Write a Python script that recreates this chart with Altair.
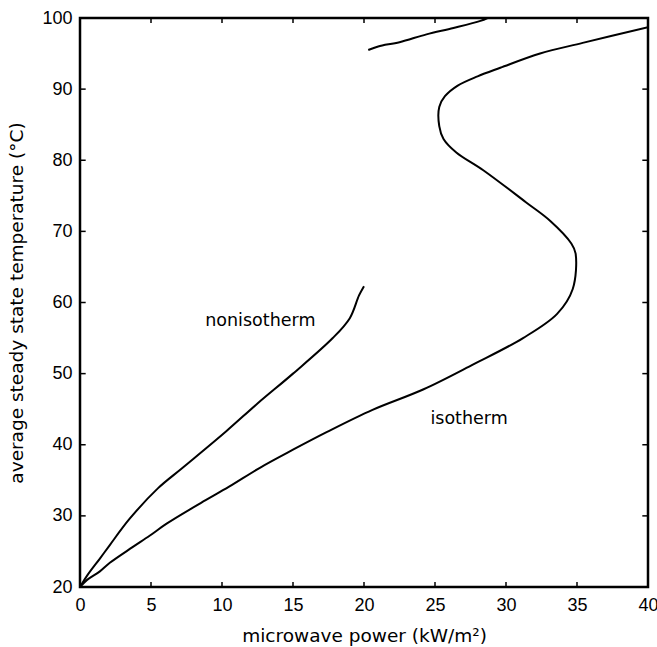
import altair as alt
import pandas as pd

# Isotherm curve (S-shaped, traced in order of the parameter)
iso_power = [0, 0.5, 1.4, 2.1, 3.7, 4.9, 6.1, 8.5, 10.5, 12.7, 15.0, 17.4, 20.6, 24.2,
             27.7, 31.2, 33.6, 34.7, 34.9, 34.6, 33.1, 31.4, 28.4, 26.5, 25.6, 25.3,
             25.3, 25.7, 26.6, 28.0, 29.6, 32.4, 35.4, 40.0]
iso_temp = [20, 21.0, 22.2, 23.4, 25.6, 27.2, 28.9, 31.8, 34.1, 36.8, 39.3, 41.8, 44.9, 47.8,
            51.3, 55.0, 58.4, 61.9, 66.9, 68.3, 71.5, 74.1, 78.6, 81.1, 83.0, 84.8,
            87.5, 89.0, 90.5, 91.8, 93.0, 95.0, 96.5, 98.7]

# Upper isotherm branch
iso2_power = [20.3, 21.0, 22.5, 24.4, 26.3, 28.2, 28.7]
iso2_temp = [95.5, 96.0, 96.6, 97.7, 98.6, 99.6, 100.0]

# Nonisotherm curve
non_power = [0, 0.5, 1.4, 2.1, 3.5, 5.5, 7.25, 10.3, 12.5, 15.0, 17.8, 19.0, 19.65, 20.0]
non_temp = [20, 21.6, 24.0, 25.9, 29.6, 33.9, 36.8, 41.9, 45.8, 50.0, 55.0, 57.8, 61.0, 62.3]

label_text = ["nonisotherm", "isotherm"]
label_power = [12.7, 27.4]
label_temp = [57.4, 43.6]

x_ticks = [0, 5, 10, 15, 20, 25, 30, 35, 40]
y_ticks = [20, 30, 40, 50, 60, 70, 80, 90, 100]

x_title = "microwave power (kW/m²)"
y_title = "average steady state temperature (°C)"

rows = []
for name, xs, ys in [("iso", iso_power, iso_temp), ("iso2", iso2_power, iso2_temp),
                     ("non", non_power, non_temp)]:
    for i, (xv, yv) in enumerate(zip(xs, ys)):
        rows.append({"curve": name, "i": i, "power": xv, "temp": yv})
curves = pd.DataFrame(rows)

FONT = "Liberation Sans"
WIDE = "DejaVu Sans"
W, H = 568, 569
xscale = alt.Scale(domain=[0, 40], nice=False, zero=False)
yscale = alt.Scale(domain=[20, 100], nice=False, zero=False)

xaxis = alt.Axis(values=x_ticks, ticks=False, domain=False, grid=False, labelFontSize=18,
                 labelFont=FONT, labelColor="black", labelPadding=9,
                 title=x_title, titleFont=WIDE, titleFontSize=18.5,
                 titleFontWeight="normal", titleColor="black", titlePadding=12,
                 labelFlush=False)
yaxis = alt.Axis(values=y_ticks, ticks=False, domain=False, grid=False, labelFontSize=18,
                 labelFont=FONT, labelColor="black", labelPadding=8,
                 title=y_title, titleFont=WIDE, titleFontSize=18.5,
                 titleFontWeight="normal", titleColor="black", titlePadding=15,
                 labelFlush=False)

lines = alt.Chart(curves).mark_line(color="black", strokeWidth=2, clip=True,
                                     interpolate="catmull-rom").encode(
    x=alt.X("power:Q", scale=xscale, axis=xaxis),
    y=alt.Y("temp:Q", scale=yscale, axis=yaxis),
    detail="curve:N",
    order="i:Q",
)

labels = alt.Chart(pd.DataFrame({"t": label_text, "x": label_power, "y": label_temp})).mark_text(
    font=WIDE, fontSize=17.5, color="black", align="center", baseline="middle"
).encode(x=alt.X("x:Q", scale=xscale), y=alt.Y("y:Q", scale=yscale), text="t:N")

# Inward tick marks on all four sides of the frame
inner_x = x_ticks[1:-1]
inner_y = y_ticks[1:-1]
bt = pd.DataFrame({"x": inner_x, "y0": 20, "y1": 20.7})
tt = pd.DataFrame({"x": inner_x, "y0": 100, "y1": 99.3})
lt = pd.DataFrame({"y": inner_y, "x0": 0, "x1": 0.4})
rt = pd.DataFrame({"y": inner_y, "x0": 40, "x1": 39.6})

def vticks(df):
    return alt.Chart(df).mark_rule(color="black", strokeWidth=1.5).encode(
        x=alt.X("x:Q", scale=xscale), y=alt.Y("y0:Q", scale=yscale), y2="y1:Q")

def hticks(df):
    return alt.Chart(df).mark_rule(color="black", strokeWidth=1.5).encode(
        y=alt.Y("y:Q", scale=yscale), x=alt.X("x0:Q", scale=xscale), x2="x1:Q")

chart = alt.layer(
    lines, labels, vticks(bt), vticks(tt), hticks(lt), hticks(rt)
).properties(
    width=W, height=H,
    autosize=alt.AutoSizeParams(type="none"),
    padding={"left": 80, "top": 18, "right": 9, "bottom": 60},
    background="white",
).configure_view(stroke="black", strokeWidth=2.5)

chart.save("out.html", embed_options={"renderer": "svg", "actions": False})
